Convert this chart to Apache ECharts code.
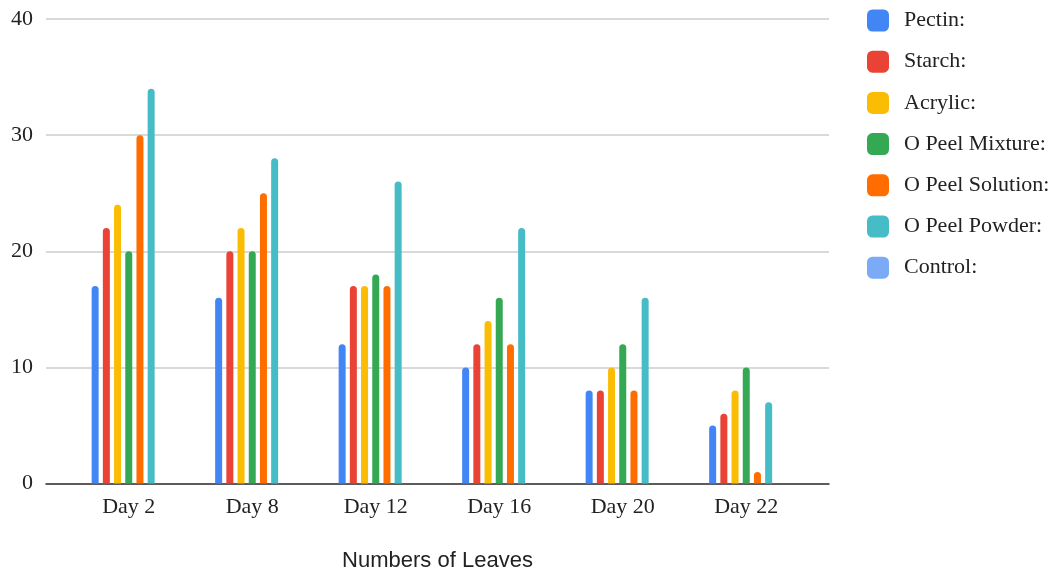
<!DOCTYPE html>
<html>
<head>
<meta charset="utf-8">
<script src="https://cdn.jsdelivr.net/npm/echarts@6/dist/echarts.min.js"></script>
<style>
html,body{margin:0;padding:0;background:#fff;}
#chart{width:1056px;height:574px;}
</style>
</head>
<body>
<div id="chart"></div>
<script>
const categories = ['Day 2', 'Day 8', 'Day 12', 'Day 16', 'Day 20', 'Day 22'];
const seriesNames = ['Pectin:', 'Starch:', 'Acrylic:', 'O Peel Mixture:', 'O Peel Solution:', 'O Peel Powder:', 'Control:'];
const pectin = [17, 16, 12, 10, 8, 5];
const starch = [22, 20, 17, 12, 8, 6];
const acrylic = [24, 22, 17, 14, 10, 8];
const mixture = [20, 20, 18, 16, 12, 10];
const solution = [30, 25, 17, 12, 8, 1];
const powder = [34, 28, 26, 22, 16, 7];
const control = [0, 0, 0, 0, 0, 0];
const yTicks = [0, 10, 20, 30, 40];

const colors = ['#4285F4', '#EA4335', '#FBBC04', '#34A853', '#FF6D01', '#46BDC6', '#7BAAF7'];
const allData = [pectin, starch, acrylic, mixture, solution, powder, control];

const serif = '"Liberation Serif", "DejaVu Serif", serif';
const chart = echarts.init(document.getElementById('chart'), null, {renderer: 'canvas'});
chart.setOption({
  animation: false,
  color: colors,
  grid: [
    {left: 46, right: 227, top: 19, bottom: 90.5, containLabel: false, outerBoundsMode: 'none'},
    {left: 67, right: 248, top: 19, bottom: 90.5, containLabel: false, outerBoundsMode: 'none'}
  ],
  xAxis: [
    {gridIndex: 0, type: 'value', min: 0, max: 1, axisLine: {show: true, lineStyle: {color: '#333', width: 1.5}},
     axisTick: {show: false}, axisLabel: {show: false}, splitLine: {show: false},
     name: 'Numbers of Leaves', nameLocation: 'middle', nameGap: 66,
     nameTextStyle: {fontFamily: '"Liberation Sans", Arial, sans-serif', fontSize: 22, color: '#222'}},
    {gridIndex: 1, type: 'category', data: categories, axisLine: {show: false}, axisTick: {show: false},
     axisLabel: {margin: 13, fontFamily: serif, fontSize: 22, color: '#222'}}
  ],
  yAxis: [
    {gridIndex: 0, type: 'value', min: yTicks[0], max: yTicks[yTicks.length - 1], interval: 10,
     axisLine: {show: false}, axisTick: {show: false},
     axisLabel: {margin: 13, fontFamily: serif, fontSize: 22, color: '#222'},
     splitLine: {lineStyle: {color: '#cccccc', width: 1.5}}},
    {gridIndex: 1, type: 'value', min: yTicks[0], max: yTicks[yTicks.length - 1], show: false, splitLine: {show: false}}
  ],
  legend: {
    orient: 'vertical', left: 867, top: 9.5, padding: 0,
    itemWidth: 22, itemHeight: 22, itemGap: 19.2, icon: 'roundRect',
    textStyle: {fontFamily: serif, fontSize: 22, color: '#222', padding: [0, 0, 0, 10]},
    data: seriesNames
  },
  series: seriesNames.map((n, i) => ({
    name: n, type: 'bar', xAxisIndex: 1, yAxisIndex: 1,
    data: allData[i], barWidth: 7, barGap: '60%',
    itemStyle: {borderRadius: [3.5, 3.5, 0, 0]}
  }))
});
</script>
</body>
</html>
